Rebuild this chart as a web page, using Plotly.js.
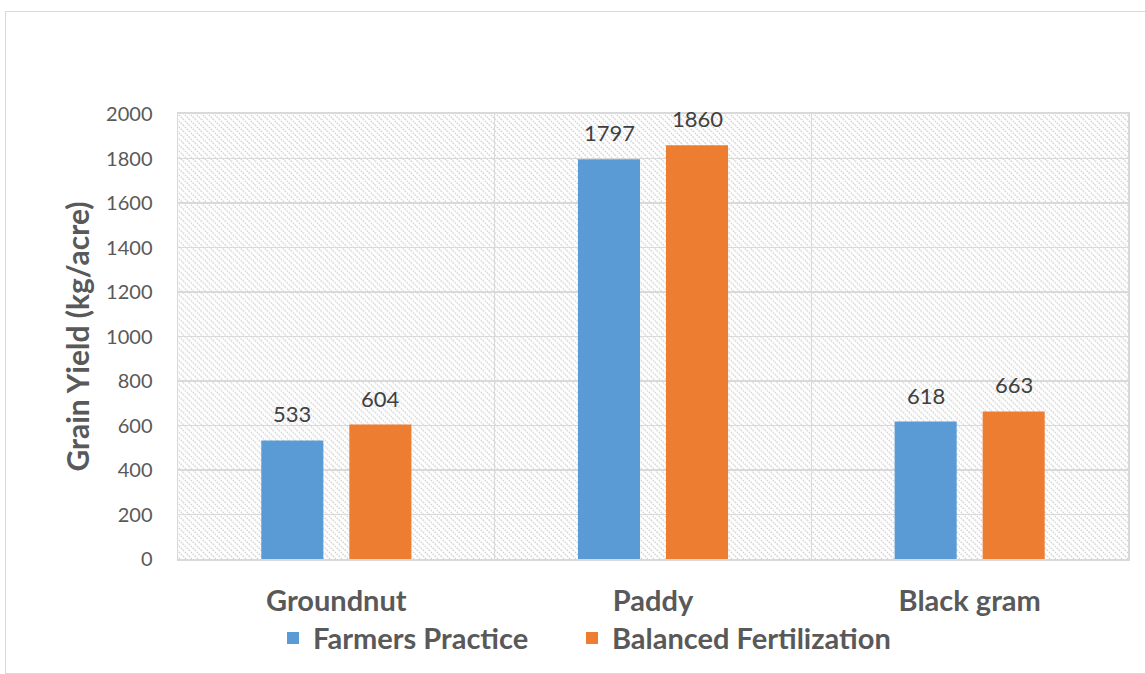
<!DOCTYPE html>
<html>
<head>
<meta charset="utf-8">
<script src="https://cdn.plot.ly/plotly-3.0.1.min.js"></script>
<style>
html,body{margin:0;padding:0;background:#fff;}
#wrap{position:relative;width:1145px;height:674px;overflow:hidden;}
#chart{position:absolute;left:0;top:0;width:1145px;height:674px;}
#frame{position:absolute;left:5px;top:11px;width:1160px;height:661px;border:1.5px solid #d9d9d9;pointer-events:none;}
</style>
</head>
<body>
<div id="wrap"><div id="chart"></div><div id="frame"></div></div>
<script>
// ---- data ----
const categories = ["Groundnut", "Paddy", "Black gram"];
const farmersPractice = [533, 1797, 618];
const balancedFertilization = [604, 1860, 663];
const seriesNames = ["Farmers Practice", "Balanced Fertilization"];
const yTickValues = [0, 200, 400, 600, 800, 1000, 1200, 1400, 1600, 1800, 2000];

// ---- styles ----
const FONT = "Lato, 'Open Sans', sans-serif";
const GRAY = "#595959";
const GRID = "#d9d9d9";
const BLUE = "#5b9bd5";
const ORANGE = "#ed7d31";

const plotW = 950, plotH = 446;
const svg = `<svg xmlns="http://www.w3.org/2000/svg" width="${plotW}" height="${plotH}">
<defs><pattern id="p" patternUnits="userSpaceOnUse" width="6" height="6">
<path d="M-1,-1 L7,7 M-1,5 L1,7 M5,-1 L7,1" stroke="#cfcfcf" stroke-width="1.3" stroke-dasharray="1.6,1"/>
</pattern></defs>
<rect width="100%" height="100%" fill="#ffffff"/>
<rect width="100%" height="100%" fill="url(#p)"/></svg>`;
const bgSrc = "data:image/svg+xml;charset=utf-8," + encodeURIComponent(svg);

const traces = [
  {type: "bar", name: seriesNames[0], x: categories, y: farmersPractice,
   marker: {color: BLUE}, hoverinfo: "x+y", legendwidth: 254},
  {type: "bar", name: seriesNames[1], x: categories, y: balancedFertilization,
   marker: {color: ORANGE}, hoverinfo: "x+y", legendwidth: 300}
];

const barOffsetPx = 44;
const annotations = [];
[farmersPractice, balancedFertilization].forEach((vals, si) => {
  vals.forEach((v, i) => {
    annotations.push({
      x: categories[i], y: v, xref: "x", yref: "y",
      text: String(v), showarrow: false,
      xanchor: "center", yanchor: "bottom",
      xshift: si === 0 ? -barOffsetPx : barOffsetPx, yshift: 11,
      font: {family: FONT, size: 22, color: "#404040"}
    });
  });
});

const layout = {
  width: 1145, height: 674,
  margin: {l: 178, r: 17, t: 114, b: 114, pad: 0},
  paper_bgcolor: "#ffffff",
  plot_bgcolor: "rgba(0,0,0,0)",
  barmode: "group",
  bargap: 0.444,
  bargroupgap: 0.295,
  showlegend: true,
  legend: {
    orientation: "h", x: 0.100, xanchor: "left", y: -0.175, yanchor: "middle",
    font: {family: FONT, size: 29, color: GRAY, weight: "bold"},
    itemwidth: 30, entrywidthmode: "pixels",
    traceorder: "normal", bgcolor: "rgba(0,0,0,0)"
  },
  xaxis: {
    type: "category",
    tickson: "boundaries",
    showgrid: true, gridcolor: GRID, gridwidth: 1.5,
    showline: true, linecolor: GRID, linewidth: 2, mirror: true,
    ticks: "", ticklabelstandoff: 15,
    tickfont: {family: FONT, size: 29, color: GRAY, weight: "bold"},
    fixedrange: true
  },
  yaxis: {
    range: [0, 2000], tickvals: yTickValues,
    showgrid: true, gridcolor: GRID, gridwidth: 1.5,
    zeroline: false,
    showline: true, linecolor: GRID, linewidth: 1.5, mirror: true,
    ticks: "", ticklabelstandoff: 20,
    tickfont: {family: FONT, size: 20, color: GRAY},
    title: {text: "Grain Yield (kg/acre)", standoff: 7,
            font: {family: FONT, size: 30, color: GRAY, weight: "bold"}},
    fixedrange: true
  },
  images: [{
    source: bgSrc, xref: "paper", yref: "paper", x: 0, y: 1,
    sizex: 1, sizey: 1, xanchor: "left", yanchor: "top",
    sizing: "stretch", layer: "below"
  }],
  annotations: annotations
};

Plotly.newPlot("chart", traces, layout, {displayModeBar: false, staticPlot: true});
</script>
</body>
</html>
